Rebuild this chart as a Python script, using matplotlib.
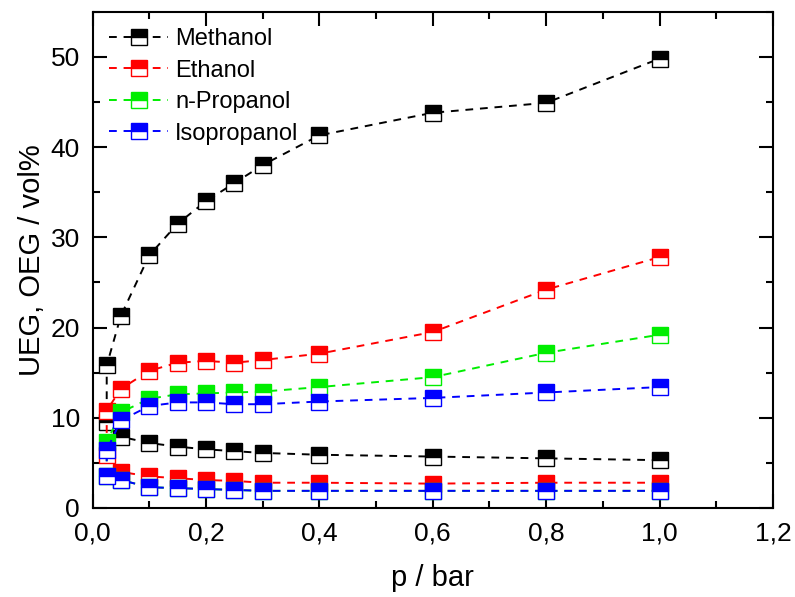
import numpy as np
import matplotlib
matplotlib.use("Agg")
import matplotlib.pyplot as plt
from matplotlib.ticker import MultipleLocator, FuncFormatter

plt.rcParams['font.family'] = ['Liberation Sans', 'DejaVu Sans']

p = [0.025, 0.05, 0.1, 0.15, 0.2, 0.25, 0.3, 0.4, 0.6, 0.8, 1.0]

# upper (OEG) and lower (UEG) explosion limits in vol%
methanol_oeg = [15.8, 21.3, 28.0, 31.5, 34.0, 36.0, 38.0, 41.3, 43.8, 44.9, 49.8]
methanol_ueg = [9.5, 7.9, 7.2, 6.8, 6.5, 6.3, 6.1, 5.9, 5.7, 5.5, 5.3]
ethanol_oeg = [10.8, 13.2, 15.2, 16.1, 16.3, 16.1, 16.4, 17.1, 19.5, 24.2, 27.8]
ethanol_ueg = [5.9, 4.0, 3.5, 3.3, 3.1, 3.0, 2.8, 2.8, 2.7, 2.8, 2.8]
npropanol_oeg = [7.3, 10.6, 12.1, 12.6, 12.7, 12.8, 12.9, 13.4, 14.5, 17.2, 19.2]
npropanol_ueg = [3.6, 3.1, 2.3, 2.2, 2.1, 2.0, 1.9, 1.9, 1.9, 1.9, 1.9]
isopropanol_oeg = [6.4, 9.7, 11.3, 11.7, 11.7, 11.5, 11.5, 11.8, 12.2, 12.8, 13.4]
isopropanol_ueg = [3.6, 3.1, 2.3, 2.2, 2.1, 2.0, 1.9, 1.9, 1.9, 1.9, 1.9]

names = ["Methanol", "Ethanol", "n-Propanol", "Isopropanol"]
colors = ["black", "red", "#00ee00", "blue"]
upper = [methanol_oeg, ethanol_oeg, npropanol_oeg, isopropanol_oeg]
lower = [methanol_ueg, ethanol_ueg, npropanol_ueg, isopropanol_ueg]

fig = plt.figure(figsize=(7.95, 5.97), dpi=100)
ax = fig.add_axes([0.1164, 0.1491, 0.8559, 0.8313])

for name, c, up, lo in zip(names, colors, upper, lower):
    # one closed curve: lower branch right-to-left, then upper branch
    xs = p[::-1] + p
    ys = lo[::-1] + up
    ax.plot(xs, ys, color=c, ls=(0, (4, 3.5)), lw=1.4, marker="s", ms=11,
            fillstyle="top", markerfacecoloralt="white", mec=c, mew=1.0,
            label=name)

ax.set_xlim(0, 1.2)
ax.set_ylim(0, 55)
ax.xaxis.set_major_locator(MultipleLocator(0.2))
ax.xaxis.set_minor_locator(MultipleLocator(0.1))
ax.yaxis.set_major_locator(MultipleLocator(10))
ax.yaxis.set_minor_locator(MultipleLocator(5))
ax.xaxis.set_major_formatter(FuncFormatter(lambda v, pos: f"{v:.1f}".replace(".", ",")))

ax.tick_params(which="both", direction="in", top=True, right=True, width=1.5,
               labelsize=19)
ax.tick_params(axis="x", pad=10)
ax.tick_params(axis="y", pad=9)
ax.tick_params(which="major", length=10)
ax.tick_params(which="minor", length=5)
for s in ax.spines.values():
    s.set_linewidth(1.5)

ax.set_xlabel("p / bar", fontsize=21, labelpad=13)
ax.set_ylabel("UEG, OEG / vol%", fontsize=21, labelpad=3)

ax.legend(loc="upper left", frameon=False, fontsize=17, handlelength=2.5,
          handletextpad=0.3, labelspacing=0.4, borderaxespad=0.3,
          bbox_to_anchor=(0.0, 1.0))

fig.savefig("out.png", dpi=100)
